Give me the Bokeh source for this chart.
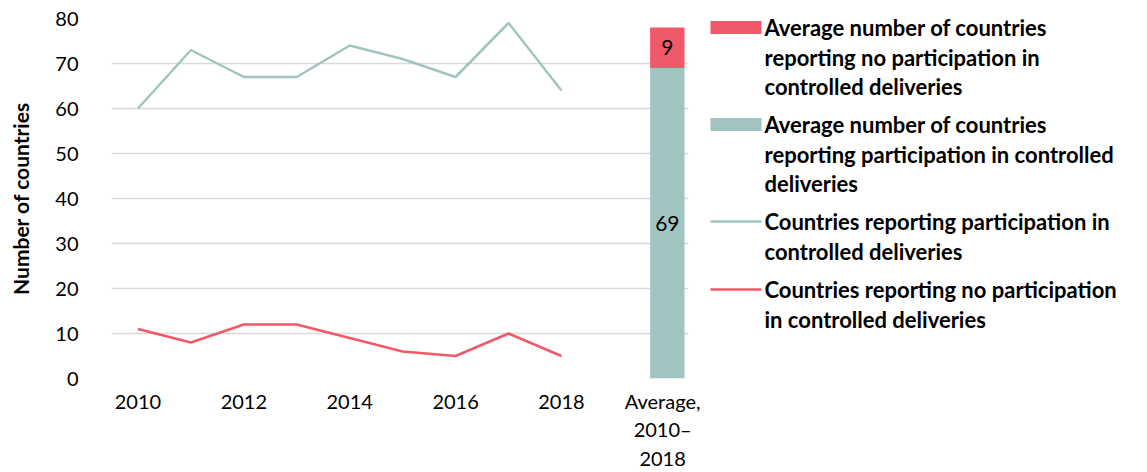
from bokeh.plotting import figure
from bokeh.layouts import row
from bokeh.models import ColumnDataSource, FixedTicker, Range1d
from bokeh.core.properties import value
from bokeh.embed import file_html
from bokeh.resources import INLINE

years = ["2010", "2011", "2012", "2013", "2014", "2015", "2016", "2017", "2018"]
participation = [60, 73, 67, 67, 74, 71, 67, 79, 64]
no_participation = [11, 8, 12, 12, 9, 6, 5, 10, 5]
avg_label = "Average,\n2010–\n2018"
avg_participation = 69
avg_no_participation = 9
shown_year_labels = ["2010", "2012", "2014", "2016", "2018"]

legend_labels = [
    ["Average number of countries", "reporting no participation in", "controlled deliveries"],
    ["Average number of countries", "reporting participation in controlled", "deliveries"],
    ["Countries reporting participation in", "controlled deliveries"],
    ["Countries reporting no participation", "in controlled deliveries"],
]

TEAL = "#A2C4C0"
RED = "#F05A68"
FONT = "Lato"

FRAME_W, FRAME_H = 577, 360
BORDER_L, BORDER_R, BORDER_T = 111, 12, 18

# category slots: the years, one empty slot, then the average bar
categories = years + [" ", avg_label]
pos = {c: i for i, c in enumerate(categories)}

p = figure(x_range=(-0.5, len(categories) - 0.6), y_range=(0, 80),
           frame_width=FRAME_W, frame_height=FRAME_H, output_backend="svg", toolbar_location=None,
           min_border_left=BORDER_L, min_border_right=BORDER_R, min_border_top=BORDER_T,
           min_border_bottom=85)
p.outline_line_color = None

line_src = ColumnDataSource(dict(x=[pos[y] for y in years], yes=participation, no=no_participation))
p.line("x", "yes", source=line_src, line_color=TEAL, line_width=2.5)
p.line("x", "no", source=line_src, line_color=RED, line_width=2.5)

bar_src = ColumnDataSource(dict(x=[pos[avg_label]], yes=[avg_participation], no=[avg_no_participation]))
p.vbar_stack(["yes", "no"], x="x", source=bar_src, width=0.65, color=[TEAL, RED], line_color=None)

lab_src = ColumnDataSource(dict(
    x=[pos[avg_label]] * 2,
    y=[avg_participation / 2, avg_participation + avg_no_participation / 2],
    t=[str(avg_participation), str(avg_no_participation)]))
p.text("x", "y", text="t", source=lab_src, text_align="center", text_baseline="middle",
       text_font=value(FONT), text_font_size="21px", text_color="black")

# axes
p.yaxis.ticker = FixedTicker(ticks=list(range(0, 81, 10)))
p.yaxis.axis_label = "Number of countries"
p.yaxis.axis_label_text_font = FONT
p.yaxis.axis_label_text_font_style = "bold"
p.yaxis.axis_label_text_font_size = "21px"
p.yaxis.axis_label_text_color = "black"
p.yaxis.axis_label_standoff = 19
for ax in (p.xaxis, p.yaxis):
    ax.axis_line_color = None
    ax.major_tick_line_color = None
    ax.minor_tick_line_color = None
    ax.major_label_text_font = FONT
    ax.major_label_text_font_size = "20px"
    ax.major_label_text_color = "black"
p.yaxis.major_label_standoff = 27
p.xaxis.major_label_standoff = 4

xticks = [pos[c] for c in shown_year_labels] + [pos[avg_label]]
p.xaxis.ticker = FixedTicker(ticks=xticks)
p.xaxis.major_label_overrides = {pos[c]: c for c in shown_year_labels + [avg_label]}

p.xgrid.grid_line_color = None
p.ygrid.grid_line_color = "#D9D9D9"
p.ygrid.grid_line_width = 1.5

# ---- legend panel (a second figure whose coordinates are page pixels) ----
LEG_LEFT = BORDER_L + FRAME_W + BORDER_R
LEG_TOP = BORDER_T + 1          # frames of the row are top-aligned
LEG_W, LEG_H = 1131 - LEG_LEFT, FRAME_H
lg = figure(x_range=Range1d(LEG_LEFT, LEG_LEFT + LEG_W), y_range=Range1d(LEG_TOP + LEG_H, LEG_TOP),
            frame_width=LEG_W, frame_height=LEG_H, output_backend="svg", toolbar_location=None,
            min_border=0)
lg.axis.visible = False
lg.grid.visible = False
lg.outline_line_color = None

swatch_kinds = ["box", "box", "line", "line"]
swatch_colors = [RED, TEAL, TEAL, RED]
first_line_y = [28, 125, 222, 290]
LINE_STEP = 29.5
SW_L, SW_R, TEXT_X = 710, 761, 764

boxes = [(c, y) for k, c, y in zip(swatch_kinds, swatch_colors, first_line_y) if k == "box"]
lg.quad(left=[SW_L] * len(boxes), right=[SW_R] * len(boxes),
        top=[y - 6.5 for _, y in boxes], bottom=[y + 6.5 for _, y in boxes],
        color=[c for c, _ in boxes], line_color=None)
segs = [(c, y) for k, c, y in zip(swatch_kinds, swatch_colors, first_line_y) if k == "line"]
lg.segment(x0=[SW_L] * len(segs), x1=[SW_R] * len(segs), y0=[y for _, y in segs],
           y1=[y for _, y in segs], line_color=[c for c, _ in segs], line_width=2.5)

tx, ty, tt = [], [], []
for y0, lines in zip(first_line_y, legend_labels):
    for i, t in enumerate(lines):
        tx.append(TEXT_X)
        ty.append(y0 + i * LINE_STEP)
        tt.append(t)
lg.text(x=tx, y=ty, text=tt, text_baseline="middle", text_align="left",
        text_font=value(FONT), text_font_style="bold", text_font_size="22px", text_color="black")

open("out.html", "w").write(file_html(row(p, lg), INLINE))
